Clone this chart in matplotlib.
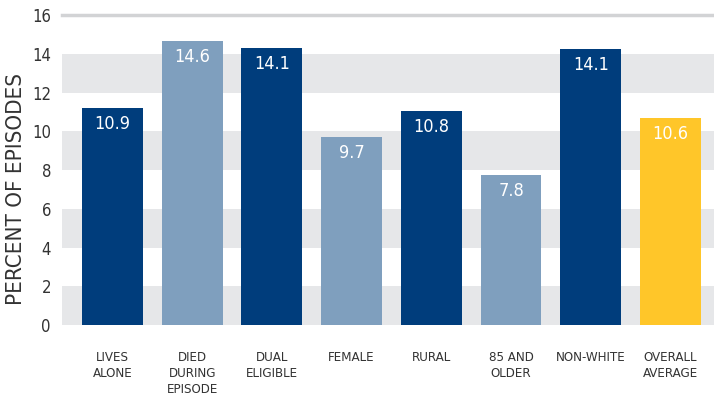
import matplotlib.pyplot as plt

categories = ['LIVES\nALONE', 'DIED\nDURING\nEPISODE', 'DUAL\nELIGIBLE', 'FEMALE',
              'RURAL', '85 AND\nOLDER', 'NON-WHITE', 'OVERALL\nAVERAGE']
labels = ['10.9', '14.6', '14.1', '9.7', '10.8', '7.8', '14.1', '10.6']
# bar heights as drawn in the picture (slightly off the printed labels)
heights = [11.2, 14.65, 14.3, 9.7, 11.05, 7.75, 14.25, 10.7]
colors = ['#003d7c', '#7f9fbe', '#003d7c', '#7f9fbe', '#003d7c', '#7f9fbe', '#003d7c', '#ffc629']
yticks = [0, 2, 4, 6, 8, 10, 12, 14, 16]

plt.rcParams['font.family'] = ['DejaVu Sans']
plt.rcParams['font.stretch'] = 'condensed'

fig = plt.figure(figsize=(7.14, 3.95), dpi=100)
ax = fig.add_axes([62/714, 1 - 325/395, 1 - 62/714, 310/395])

# alternating gray bands
for lo in [0, 4, 8, 12]:
    ax.axhspan(lo, lo + 2, color='#e6e7e9', lw=0, zorder=0)
ax.axhline(16, color='#d2d3d5', lw=2.5, zorder=1, clip_on=False)

x = range(len(heights))
ax.bar(x, heights, width=0.765, color=colors, zorder=2)
for xi, h, lab in zip(x, heights, labels):
    ax.annotate(lab, (xi, h), xytext=(0, -11.5), textcoords='offset points',
                ha='center', va='center', color='white', fontsize=13, zorder=3)

ax.set_xlim(-0.634, 7.547)
ax.set_ylim(0, 16)
ax.set_yticks(yticks)
ax.set_yticklabels([str(t) for t in yticks], fontsize=12, color='#333333')
ax.set_xticks(list(x))
ax.set_xticklabels(categories, fontsize=9.5, color='#333333', linespacing=1.3, va='top')
ax.tick_params(axis='y', length=0, pad=8)
ax.tick_params(axis='x', length=0, pad=19)
for s in ax.spines.values():
    s.set_visible(False)

ax.set_ylabel('PERCENT OF EPISODES', fontsize=16, color='#333333')
ax.yaxis.set_label_coords(-0.055, 0.44)

fig.savefig('out.png', dpi=100)
